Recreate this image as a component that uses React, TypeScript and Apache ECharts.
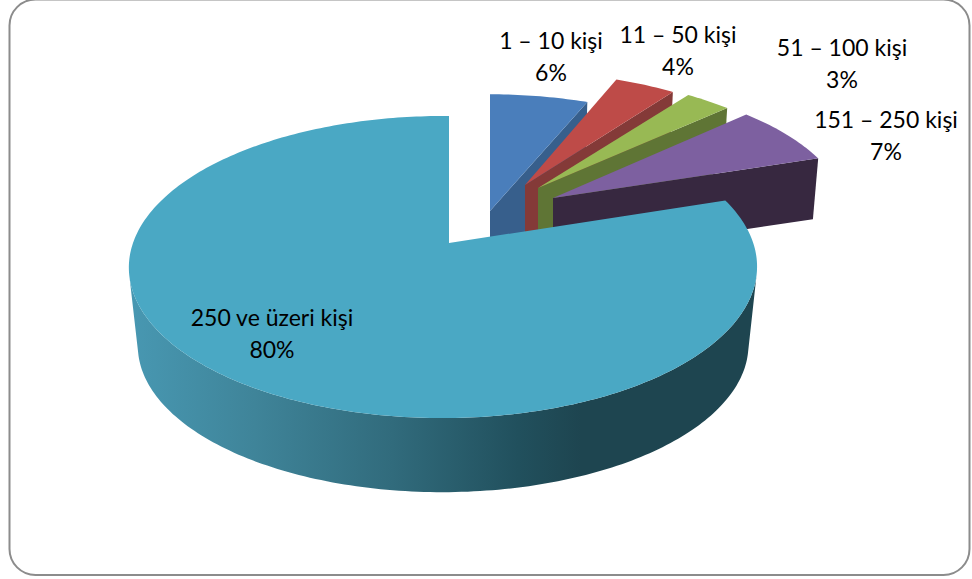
import React, { useEffect, useRef } from "react";
import * as echarts from "echarts";

const categories = ["1 – 10 kişi", "11 – 50 kişi", "51 – 100 kişi", "151 – 250 kişi", "250 ve üzeri kişi"];
const shares = [6, 4, 3, 7, 80];

const topColors = ["#4a7ebb", "#be4b48", "#98b954", "#7d60a0", "#4aa8c4"];
const wallColors = ["#375f8c", "#843a38", "#5f7535", "#372840", "#1e4550"];

// Where each exploded slice sits: apex on screen, scale of its face, extrusion depth and taper.
const sliceApexX = [490, 525, 538, 553, 449];
const sliceApexY = [211, 185, 188, 198, 243];
const sliceScaleX = [0.985, 0.925, 0.94, 0.96, 1];
const sliceScaleY = [0.92, 0.89, 0.89, 0.93, 1];
const sliceDepth = [60, 60, 60, 60, 79];
const sliceTaper = [0.98, 0.98, 0.98, 0.98, 0.972];

const labelX = [551, 678, 842, 886, 272];
const labelY = [56, 50, 63, 135, 333];

// Perspective of the tilted disc: unit-circle position to an offset from the apex.
const DISC_X = 310;
const DISC_Y = 147.2;
const TILT_Y = 0.159;
const TILT_X = 0.019;

function project(angleDeg: number): [number, number] {
  const t = (angleDeg * Math.PI) / 180;
  const u = Math.sin(t);
  const v = -Math.cos(t);
  const w = 1 + TILT_X * u - TILT_Y * v;
  return [(DISC_X * u) / w, (DISC_Y * v) / w];
}

function renderSlice(params: any, api: any) {
  const i = params.dataIndex;
  const total = shares.reduce((a, b) => a + b, 0);
  const before = shares.slice(0, i).reduce((a, b) => a + b, 0);
  const start = (before / total) * 360;
  const end = ((before + api.value(0)) / total) * 360;

  const ax = sliceApexX[i];
  const ay = sliceApexY[i];
  const top = (a: number): number[] => {
    const [x, y] = project(a);
    return [ax + x * sliceScaleX[i], ay + y * sliceScaleY[i]];
  };
  const bottom = (a: number): number[] => {
    const [x, y] = project(a);
    const k = sliceTaper[i];
    return [ax + x * sliceScaleX[i] * k, ay + sliceDepth[i] + y * sliceScaleY[i] * k];
  };

  const arc: number[] = [];
  for (let a = start; a < end; a += 1) arc.push(a);
  arc.push(end);

  const children: any[] = [];
  if (i < shares.length - 1) {
    // Small slices only show the cut face along their trailing edge.
    children.push({
      type: "polygon",
      shape: { points: [[ax, ay], top(end), bottom(end), [ax, ay + sliceDepth[i]]] },
      style: { fill: wallColors[i] },
    });
  } else {
    // The large slice shows its rim, shaded from left to right. Only the part of the
    // rim facing the viewer is kept, so the strip never folds over itself.
    const facesViewer = (a: number): boolean => {
      const p = top(a);
      const q = top(a + 1);
      const b = bottom(a);
      return (q[0] - p[0]) * (b[1] - p[1]) - (q[1] - p[1]) * (b[0] - p[0]) < 0;
    };
    const rim = arc.filter(facesViewer);
    children.push({
      type: "polygon",
      shape: { points: [...rim.map(top), ...rim.slice().reverse().map(bottom)] },
      style: {
        fill: new echarts.graphic.LinearGradient(
          129, 0, 757, 0,
          [
            { offset: 0, color: "#4898b2" },
            { offset: 0.2, color: "#3f8499" },
            { offset: 0.42, color: "#316b7c" },
            { offset: 0.62, color: "#21505d" },
            { offset: 0.72, color: "#1e4550" },
            { offset: 1, color: "#1e4550" },
          ],
          true
        ),
      },
    });
  }
  children.push({
    type: "polygon",
    shape: { points: [[ax, ay], ...arc.map(top)] },
    style: { fill: topColors[i] },
  });
  return { type: "group", children };
}

function renderLabel(params: any, api: any) {
  const i = params.dataIndex;
  return {
    type: "text",
    x: labelX[i],
    y: labelY[i],
    style: {
      text: `${categories[i]}\n${api.value(0)}%`,
      font: '23px Lato, "Open Sans", sans-serif',
      fill: "#000000",
      align: "center",
      verticalAlign: "middle",
      lineHeight: 32,
    },
  };
}

export default function App() {
  const ref = useRef<HTMLDivElement>(null);

  useEffect(() => {
    const chart = echarts.init(ref.current!, undefined, { renderer: "svg" });
    chart.setOption({
      animation: false,
      backgroundColor: "#ffffff",
      graphic: [
        {
          type: "rect",
          z: 0,
          shape: { x: 9.5, y: -0.5, width: 960, height: 575.5, r: 26 },
          style: { fill: "#ffffff", stroke: "#8c8c8c", lineWidth: 2 },
        },
      ],
      series: [
        {
          type: "custom",
          coordinateSystem: "none",
          silent: true,
          z: 2,
          data: shares.map((v) => [v]),
          encode: { value: 0 },
          renderItem: renderSlice,
        },
        {
          type: "custom",
          coordinateSystem: "none",
          silent: true,
          z: 3,
          data: shares.map((v) => [v]),
          encode: { value: 0 },
          renderItem: renderLabel,
        },
      ],
    });
    return () => chart.dispose();
  }, []);

  return <div ref={ref} style={{ position: "absolute", left: 0, top: 0, width: 972, height: 579 }} />;
}
